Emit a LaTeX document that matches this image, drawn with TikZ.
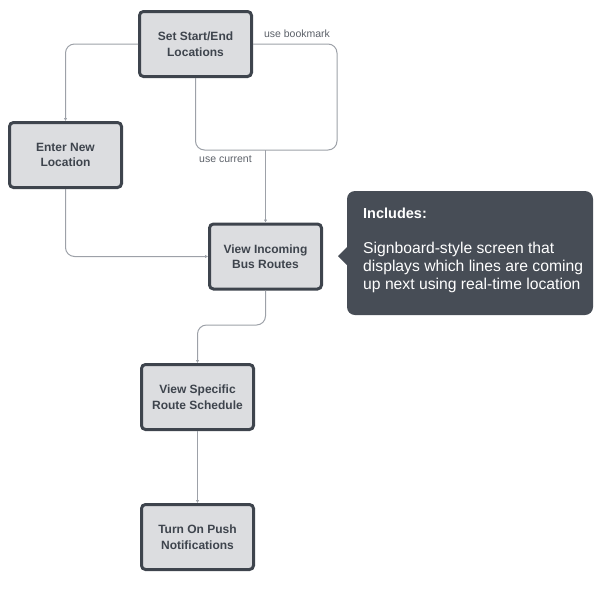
\documentclass[tikz,border=0pt]{standalone}
\usepackage{fontspec}
\setmainfont{Liberation Sans}
\usetikzlibrary{arrows.meta}

\definecolor{boxfill}{HTML}{DCDDE0}
\definecolor{boxline}{HTML}{3E444D}
\definecolor{linkgray}{HTML}{9DA1A8}
\definecolor{notefill}{HTML}{474D56}

\begin{document}
\begin{tikzpicture}
  [x=1pt,y=-1pt,
    screen/.style={draw=boxline,fill=boxfill,line width=3pt,rounded corners=4pt,
      minimum width=112pt,minimum height=65pt,align=center,
      text=boxline,font=\fontsize{12}{15.5}\selectfont\bfseries},
    flow/.style={draw=linkgray,line width=1pt,rounded corners=9pt,
      -{Latex[length=3pt,width=3.5pt]}},
    branch/.style={text=boxline!85,font=\fontsize{10.5}{12}\selectfont},
]
  \useasboundingbox (0,0) rectangle (609,595);

  % screens
  \node[screen] (start) at (195.5,44) {Set Start/End\\Locations};
  \node[screen] (enter) at (65.5,155) {Enter New\\Location};
  \node[screen] (incoming) at (265.5,256.5) {View Incoming\\Bus Routes};
  \node[screen] (specific) at (197.5,397) {View Specific\\Route Schedule};
  \node[screen] (push) at (197.5,537) {Turn On Push\\Notifications};

  % bends
  \coordinate (join) at (265.5,150);
  \coordinate (bend) at (337,150);
  \coordinate (mid) at (232,325);

  \draw[flow] (start.west) -| (enter.north);
  \draw[flow,-] (start.east) -| (bend) -- (join);
  \draw[flow,-] (start.south) |- (join);
  \draw[flow] (join) -- (incoming.north);
  \draw[flow] (enter.south) |- (incoming.west);
  \draw[flow] (incoming.south) |- (mid) -| (specific.north);
  \draw[flow] (specific.south) -- (push.north);

  \node[branch] (bookmark) at (297,34) {use bookmark};
  \node[branch] (current) at (225.5,159) {use current};

  % note
  \fill[notefill,rounded corners=8pt] (347,191) rectangle (593,315);
  \fill[notefill] (348,246) -- (338,256) -- (348,266) -- cycle;
  \node[anchor=north west,align=left,text=white,inner sep=0pt,
    font=\fontsize{15.7}{18}\selectfont] (note) at (363,208)
    {{\fontsize{14.5}{18}\selectfont\bfseries Includes:}\\[17pt]
     Signboard-style screen that\\
     displays which lines are coming\\
     up next using real-time location};
\end{tikzpicture}
\end{document}
